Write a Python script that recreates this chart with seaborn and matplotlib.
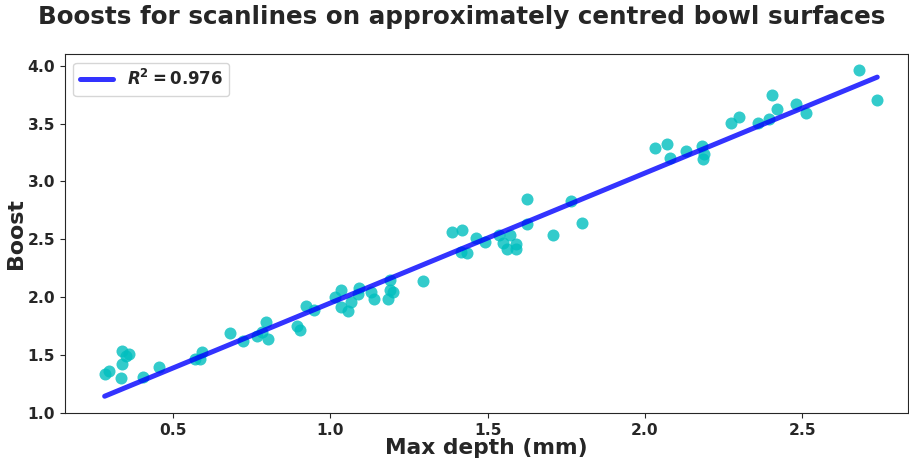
import numpy as np
import pandas as pd
import matplotlib
matplotlib.use("Agg")
import matplotlib.pyplot as plt
import seaborn as sns

# Measured scanline depths (mm) and corresponding boost factors
max_depth = [
    0.283, 0.298, 0.337, 0.351, 0.360, 0.337, 0.334, 0.405, 0.457,
    0.569, 0.587, 0.593, 0.680, 0.723, 0.768, 0.795, 0.784, 0.802, 0.894,
    0.904, 0.923, 0.947, 1.014, 1.033, 1.035, 1.056, 1.066, 1.091, 1.088,
    1.130, 1.138, 1.190, 1.190, 1.198, 1.184, 1.294, 1.386, 1.420, 1.414,
    1.434, 1.464, 1.493, 1.535, 1.550, 1.571, 1.563, 1.590, 1.590, 1.624,
    1.624, 1.709, 1.764, 1.801, 2.031, 2.071, 2.080, 2.130, 2.180, 2.187,
    2.185, 2.274, 2.298, 2.358, 2.394, 2.405, 2.421, 2.480, 2.513, 2.679,
    2.738,
]
boost = [
    1.337, 1.363, 1.538, 1.490, 1.510, 1.420, 1.305, 1.314, 1.400,
    1.470, 1.470, 1.530, 1.690, 1.625, 1.666, 1.787, 1.700, 1.637, 1.752,
    1.715, 1.925, 1.890, 2.000, 2.066, 1.913, 1.884, 1.957, 2.078, 2.026,
    2.048, 1.985, 2.152, 2.060, 2.048, 1.983, 2.138, 2.562, 2.584, 2.394,
    2.385, 2.515, 2.475, 2.538, 2.472, 2.541, 2.415, 2.458, 2.415, 2.847,
    2.633, 2.536, 2.832, 2.645, 3.290, 3.328, 3.207, 3.267, 3.308, 3.236,
    3.198, 3.506, 3.556, 3.504, 3.538, 3.751, 3.625, 3.673, 3.593, 3.962,
    3.703,
]

# Fitted linear model: boost = slope * depth + intercept
fit_slope = 1.123
fit_intercept = 0.827
r_squared = 0.976

df = pd.DataFrame({"Max depth (mm)": max_depth, "Boost": boost})
fit_x = np.array([min(max_depth), max(max_depth)])
fit_df = pd.DataFrame({"x": fit_x, "y": fit_slope * fit_x + fit_intercept})

sns.set_style("ticks")
plt.rcParams["font.family"] = ["DejaVu Sans"]
plt.rcParams["font.weight"] = "bold"

fig, ax = plt.subplots(figsize=(9.09, 4.63), dpi=100)
fig.subplots_adjust(left=0.0715, right=0.999, top=0.883, bottom=0.108)

sns.scatterplot(data=df, x="Max depth (mm)", y="Boost", ax=ax,
                color="c", alpha=0.8, s=75, linewidth=0)
sns.lineplot(data=fit_df, x="x", y="y", ax=ax, color="blue", alpha=0.8,
             lw=3.6, solid_capstyle="round",
             label=rf"$\mathbfit{{R}}^\mathbf{{2}}\mathbf{{={r_squared}}}$")

ax.set_ylim(1.0, 4.1)
ax.set_xlim(0.157, 2.836)
ax.set_yticks([1.0, 1.5, 2.0, 2.5, 3.0, 3.5, 4.0])
ax.set_xticks([0.5, 1.0, 1.5, 2.0, 2.5])
ax.tick_params(labelsize=11.2)
for lab in ax.get_xticklabels() + ax.get_yticklabels():
    lab.set_fontweight("bold")

ax.set_xlabel("Max depth (mm)", fontsize=15.7, fontweight="bold", labelpad=0)
ax.set_ylabel("Boost", fontsize=15.9, fontweight="bold", labelpad=1)
fig.suptitle("Boosts for scanlines on approximately centred bowl surfaces",
             x=0.508, y=0.990, va="top", fontsize=17.7, fontweight="bold",
             color="#262626")
ax.legend(loc="upper left", prop={"weight": "bold", "size": 12})

fig.savefig("out.png", dpi=100)
